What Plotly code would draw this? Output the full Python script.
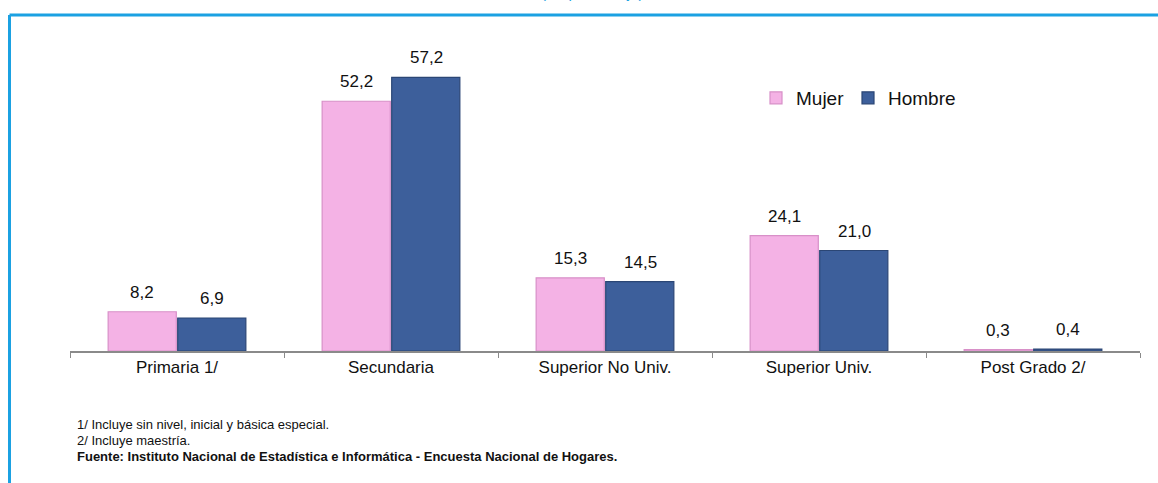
import plotly.graph_objects as go

categories = ["Primaria 1/", "Secundaria", "Superior No Univ.", "Superior Univ.", "Post Grado 2/"]
mujer = [8.2, 52.2, 15.3, 24.1, 0.3]
hombre = [6.9, 57.2, 14.5, 21.0, 0.4]
series_names = ["Mujer", "Hombre"]
notes = [
    "1/ Incluye sin nivel, inicial y básica especial.",
    "2/ Incluye maestría.",
    "<b>Fuente: Instituto Nacional de Estadística e Informática - Encuesta Nacional de Hogares.</b>",
]

FONT = "Liberation Sans Narrow, Arial Narrow, Liberation Sans, Arial, sans-serif"
W, H = 1158, 483
ML, MR, MT, MB = 70, 18, 40, 132

fig = go.Figure()
fig.add_trace(go.Bar(
    x=categories, y=mujer, name=series_names[0], legend="legend",
    marker=dict(color="#F4B2E5", line=dict(color="#D890C8", width=1.2)),
))
fig.add_trace(go.Bar(
    x=categories, y=hombre, name=series_names[1], legend="legend2",
    marker=dict(color="#3D5F9B", line=dict(color="#2B4675", width=1.2)),
))

# value labels above bars
for vals, shift in ((mujer, -35), (hombre, 35)):
    for c, v in zip(categories, vals):
        fig.add_annotation(
            x=c, y=v, xref="x", yref="y", text=f"{v:.1f}".replace(".", ","),
            showarrow=False, yanchor="bottom", xshift=shift, yshift=8,
            font=dict(family=FONT, size=17, color="#111"),
        )

pw = W - ML - MR
ph = H - MT - MB
def px_x(p):
    return (p - ML) / pw
def px_y(p):
    return (H - MB - p) / ph

# footnotes
for i, t in enumerate(notes):
    fig.add_annotation(
        x=px_x(75), y=px_y(424 + 16 * i), xref="paper", yref="paper",
        text=t, showarrow=False, xanchor="left", yanchor="middle",
        font=dict(family=FONT, size=13, color="#111"),
    )

# partially visible title at top (cut by the top edge, as in the reference)
fig.add_annotation(
    x=px_x(592), y=px_y(3), xref="paper", yref="paper",
    text="(En porcentaje)", showarrow=False, xanchor="center", yanchor="bottom",
    font=dict(family=FONT, size=15, color="#1BA1E2"),
)

# blue frame
fig.add_shape(type="line", xref="paper", yref="paper",
              x0=px_x(9.5), x1=px_x(W + 20), y0=px_y(15), y1=px_y(15),
              line=dict(color="#1BA1E2", width=3))
fig.add_shape(type="line", xref="paper", yref="paper",
              x0=px_x(9.5), x1=px_x(9.5), y0=px_y(15), y1=px_y(H + 20),
              line=dict(color="#1BA1E2", width=3))

leg_common = dict(
    orientation="h", yanchor="middle", xanchor="left",
    font=dict(family=FONT, size=19, color="#111"),
    itemwidth=30, bgcolor="rgba(0,0,0,0)",
)

fig.update_layout(
    width=W, height=H,
    margin=dict(l=ML, r=MR, t=MT, b=MB),
    paper_bgcolor="white", plot_bgcolor="white",
    barmode="group", bargap=0.35, bargroupgap=0.02,
    separators=",.",
    font=dict(family=FONT, size=16, color="#111"),
    showlegend=True,
    legend=dict(x=px_x(756), y=px_y(98), **leg_common),
    legend2=dict(x=px_x(848), y=px_y(98), **leg_common),
    xaxis=dict(
        showline=True, linecolor="#8A8A8A", linewidth=1.5,
        ticks="outside", tickson="boundaries", ticklen=5, tickcolor="#8A8A8A",
        tickfont=dict(family=FONT, size=17, color="#111"),
        showgrid=False,
    ),
    yaxis=dict(range=[0, 65], visible=False, showgrid=False),
)

fig.write_html(
    "out.html",
    config={"displayModeBar": False},
    post_script="document.body.style.margin='0';document.body.style.overflow='hidden';",
)
